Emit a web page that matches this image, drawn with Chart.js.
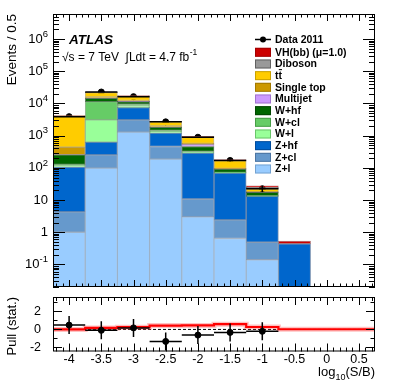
<!DOCTYPE html>
<html>
<head>
<meta charset="utf-8">
<script src="https://cdn.jsdelivr.net/npm/chart.js@4.4.1/dist/chart.umd.min.js"></script>
<style>
  html, body { margin: 0; padding: 0; background: #fff; }
  #wrap { position: relative; width: 407px; height: 391px; }
  canvas { position: absolute; left: 0; }
  #mainChart { top: 0; }
  #pullChart { top: 292px; }
</style>
</head>
<body>
<div id="wrap">
  <canvas id="mainChart" width="407" height="292"></canvas>
  <canvas id="pullChart" width="407" height="99"></canvas>
</div>
<script>
// --- Data ---

const binCenters = [-4, -3.5, -3, -2.5, -2, -1.5, -1, -0.5];

// background stack, bottom first
const zl        = [1.0, 98, 1290, 187, 3.0, 0.64, 0.14, 0];
const zcl       = [3.3, 156, 1800, 273, 7.8, 1.8, 0.35, 0];
const zhf       = [102, 376, 4300, 740, 277, 66, 12.5, 0.44];
const wl        = [8, 2460, 950, 110, 15, 1.5, 0.2, 0];
const wcl       = [14, 8300, 1250, 140, 19, 2.5, 0.5, 0];
const whf       = [126, 3100, 1800, 380, 138, 19, 3.6, 0];
const multijet  = [2, 300, 200, 20, 75, 2, 0.2, 0];
const singleTop = [184, 1100, 800, 150, 40, 3, 0.9, 0];
const ttbar     = [3660, 5800, 4600, 680, 325, 73, 3.8, 0];
const diboson   = [20, 600, 400, 60, 35, 8, 2.7, 0];
const vhSignal  = [0.3, 1, 2, 1, 1.5, 1.2, 2.6, 0.09];

const dataCenters = [-4, -3.5, -3, -2.5, -2, -1.5, -1];
const data2011    = [3900, 22700, 16300, 2690, 895, 170, 22.5];
const data2011Err = [62, 151, 128, 52, 30, 13, 4.7];

const pullValues = [0.48, -0.1, 0.17, -1.33, -0.63, -0.33, -0.21];
const pullErr    = [1, 1, 1, 1, 1, 1, 1];

const redCenters = [-4, -3.5, -3, -2.5, -2, -1.5, -1, -0.5, 0, 0.5];
const redLevels  = [0.15, 0.0, 0.17, 0.25, 0.43, 0.45, 0.58, 0.27, 0.02, 0.02];

const xTickLabels = ["-4", "-3.5", "-3", "-2.5", "-2", "-1.5", "-1", "-0.5", "0", "0.5"];
const xTickValues = [-4, -3.5, -3, -2.5, -2, -1.5, -1, -0.5, 0, 0.5];
const pullTickValues = [-2, 0, 2];

const FONT = "'Liberation Sans', Arial, Helvetica, sans-serif";
const HALF_BIN = 0.25;

// --- helpers ---

function toPoints(xs, ys) {
  return xs.map((x, i) => ({ x: x, y: ys[i] }));
}

function stackSet(label, values, color, edge) {
  return {
    type: "bar",
    label: label,
    data: toPoints(binCenters, values),
    backgroundColor: color,
    borderColor: edge,
    borderWidth: 1,
    borderSkipped: false,
    barPercentage: 1,
    categoryPercentage: 1,
    stack: "mc",
  };
}

function drawFrame(ctx, a) {
  ctx.save();
  ctx.strokeStyle = "#000";
  ctx.lineWidth = 1;
  ctx.strokeRect(a.left + 0.5, a.top + 0.5, a.right - a.left - 1, a.bottom - a.top - 1);
  ctx.restore();
}

function drawXTicks(chart, majLen, minLen) {
  const ctx = chart.ctx;
  const a = chart.chartArea;
  const sx = chart.scales.x;
  ctx.save();
  ctx.strokeStyle = "#000";
  ctx.lineWidth = 1;
  ctx.beginPath();
  for (let k = -42; k <= 7; k++) {
    const px = Math.round(sx.getPixelForValue(k / 10)) + 0.5;
    const len = k % 5 === 0 ? majLen : minLen;
    ctx.moveTo(px, a.bottom);
    ctx.lineTo(px, a.bottom - len);
    ctx.moveTo(px, a.top);
    ctx.lineTo(px, a.top + len);
  }
  ctx.stroke();
  ctx.restore();
}

function drawErrorBars(chart, xs, ys, errs, lw) {
  const ctx = chart.ctx;
  const sx = chart.scales.x;
  const sy = chart.scales.y;
  ctx.save();
  ctx.strokeStyle = "#000";
  ctx.lineWidth = lw;
  ctx.beginPath();
  xs.forEach((x, i) => {
    const py = sy.getPixelForValue(ys[i]);
    const px = sx.getPixelForValue(x);
    ctx.moveTo(sx.getPixelForValue(x - HALF_BIN), py);
    ctx.lineTo(sx.getPixelForValue(x + HALF_BIN), py);
    const lo = Math.max(ys[i] - errs[i], sy.min);
    ctx.moveTo(px, sy.getPixelForValue(lo));
    ctx.lineTo(px, sy.getPixelForValue(ys[i] + errs[i]));
  });
  ctx.stroke();
  ctx.restore();
}

// --- Main panel ---

const mainDecoration = {
  id: "mainDecoration",
  afterDatasetsDraw(chart) {
    drawErrorBars(chart, dataCenters, data2011, data2011Err, 1.5);
  },
  afterDraw(chart) {
    const ctx = chart.ctx;
    const a = chart.chartArea;
    const sy = chart.scales.y;

    drawFrame(ctx, a);
    drawXTicks(chart, 7, 3.5);

    // log y ticks, left and right
    ctx.save();
    ctx.strokeStyle = "#000";
    ctx.lineWidth = 1;
    ctx.beginPath();
    for (let d = -2; d <= 6; d++) {
      for (let m = 1; m <= 9; m++) {
        const v = m * Math.pow(10, d);
        if (v < sy.min || v > sy.max) continue;
        const py = Math.round(sy.getPixelForValue(v)) + 0.5;
        const len = m === 1 ? 12 : 6;
        ctx.moveTo(a.left, py);
        ctx.lineTo(a.left + len, py);
        ctx.moveTo(a.right, py);
        ctx.lineTo(a.right - len, py);
      }
    }
    ctx.stroke();

    // y labels
    ctx.fillStyle = "#000";
    ctx.textBaseline = "middle";
    for (let d = -1; d <= 6; d++) {
      const py = sy.getPixelForValue(Math.pow(10, d));
      const right = 48;
      if (d === 0 || d === 1) {
        ctx.font = "13px " + FONT;
        ctx.textAlign = "right";
        ctx.fillText(d === 0 ? "1" : "10", right, py);
      } else {
        const exp = d < 0 ? "-" + Math.abs(d) : String(d);
        ctx.font = "9.5px " + FONT;
        const ew = ctx.measureText(exp).width;
        ctx.textAlign = "left";
        ctx.fillText(exp, right - ew, py - 5);
        ctx.font = "13px " + FONT;
        ctx.textAlign = "right";
        ctx.fillText("10", right - ew, py);
      }
    }

    // y title
    ctx.save();
    ctx.translate(12, 14);
    ctx.rotate(-Math.PI / 2);
    ctx.font = "13.5px " + FONT;
    ctx.textAlign = "right";
    ctx.textBaseline = "middle";
    ctx.fillText("Events / 0.5", 0, 0);
    ctx.restore();

    // ATLAS label
    ctx.textAlign = "left";
    ctx.textBaseline = "middle";
    ctx.font = "italic bold 13.5px " + FONT;
    ctx.fillText("ATLAS", 69, 40.5);

    ctx.font = "12px " + FONT;
    let x = 62;
    const y = 57.5;
    const parts = ["\u221As = 7 TeV  ", "\u222B", "Ldt = 4.7 fb"];
    parts.forEach((t) => {
      ctx.fillText(t, x, y);
      x += ctx.measureText(t).width;
    });
    ctx.font = "8.5px " + FONT;
    ctx.fillText("-1", x + 0.5, y - 4.5);

    // legend
    const sets = chart.data.datasets;
    const rowH = 11.67;
    let ly = 39.5;
    ctx.font = "bold 10.5px " + FONT;
    for (let i = sets.length - 1; i >= 0; i--) {
      const ds = sets[i];
      if (ds.type === "scatter") {
        ctx.beginPath();
        ctx.moveTo(255, ly);
        ctx.lineTo(271, ly);
        ctx.lineWidth = 1.5;
        ctx.stroke();
        ctx.beginPath();
        ctx.arc(263, ly, 3, 0, Math.PI * 2);
        ctx.fill();
      } else {
        ctx.fillStyle = ds.backgroundColor;
        ctx.fillRect(255, ly - 4.5, 16, 9);
        ctx.lineWidth = 1;
        ctx.strokeStyle = ds.borderColor;
        ctx.strokeRect(255.5, ly - 4, 15, 8);
        ctx.strokeStyle = "#000";
      }
      ctx.fillStyle = "#000";
      if (ds.label === "tt\u0304") {
        ctx.fillText("tt", 275, ly + 0.5);
        const w1 = ctx.measureText("t").width;
        const w2 = ctx.measureText("tt").width;
        ctx.fillRect(275 + w1 + 0.3, ly - 6.5, w2 - w1 - 0.3, 1);
      } else {
        ctx.fillText(ds.label, 275, ly + 0.5);
      }
      ly += i === sets.length - 1 ? 12.8 : rowH;
    }
    ctx.restore();
  },
};

const mainChart = new Chart(document.getElementById("mainChart"), {
  data: {
    datasets: [
      stackSet("Z+l", zl, "#99ccff", "rgba(70,110,150,0.45)"),
      stackSet("Z+cl", zcl, "#6699cc", "rgba(50,80,120,0.5)"),
      stackSet("Z+hf", zhf, "#0066cc", "rgba(0,50,110,0.5)"),
      stackSet("W+l", wl, "#99ff99", "rgba(60,140,60,0.5)"),
      stackSet("W+cl", wcl, "#66cc66", "rgba(40,110,40,0.5)"),
      stackSet("W+hf", whf, "#006600", "rgba(0,50,0,0.6)"),
      stackSet("Multijet", multijet, "#cc99ff", "rgba(120,80,160,0.5)"),
      stackSet("Single top", singleTop, "#cc9900", "rgba(120,90,0,0.5)"),
      stackSet("tt\u0304", ttbar, "#ffcc00", "rgba(150,120,0,0.5)"),
      stackSet("Diboson", diboson, "#999999", "rgba(60,60,60,0.6)"),
      stackSet("VH(bb) (\u03BC=1.0)", vhSignal, "#cc0000", "rgba(120,0,0,0.5)"),
      {
        type: "scatter",
        label: "Data 2011",
        data: toPoints(dataCenters, data2011),
        backgroundColor: "#000",
        borderColor: "#000",
        pointRadius: 3,
        pointHoverRadius: 3,
        stack: "data",
      },
    ],
  },
  options: {
    responsive: false,
    animation: false,
    layout: { padding: { left: 53, right: 32, top: 14, bottom: 5 } },
    plugins: { legend: { display: false }, tooltip: { enabled: false } },
    scales: {
      x: { type: "linear", min: -4.25, max: 0.75, offset: false, stacked: true, display: false },
      y: { type: "logarithmic", min: 0.02, max: 6e6, stacked: true, display: false },
    },
  },
  plugins: [mainDecoration],
});

// --- Pull panel ---

const redLine = toPoints(redCenters.map((c) => c - HALF_BIN), redLevels);
redLine.push({ x: 0.75, y: redLevels[redLevels.length - 1] });

const pullDecoration = {
  id: "pullDecoration",
  afterDatasetsDraw(chart) {
    drawErrorBars(chart, dataCenters, pullValues, pullErr, 1.5);
  },
  afterDraw(chart) {
    const ctx = chart.ctx;
    const a = chart.chartArea;
    const sx = chart.scales.x;
    const sy = chart.scales.y;

    drawFrame(ctx, a);
    drawXTicks(chart, 8, 4);

    ctx.save();
    ctx.strokeStyle = "#000";
    ctx.lineWidth = 1;
    ctx.beginPath();
    for (let v = -2; v <= 3; v++) {
      const py = Math.round(sy.getPixelForValue(v)) + 0.5;
      const len = v % 2 === 0 ? 9 : 4.5;
      ctx.moveTo(a.left, py);
      ctx.lineTo(a.left + len, py);
      ctx.moveTo(a.right, py);
      ctx.lineTo(a.right - len, py);
    }
    ctx.stroke();

    ctx.fillStyle = "#000";
    ctx.font = "12.5px " + FONT;
    ctx.textAlign = "right";
    ctx.textBaseline = "middle";
    pullTickValues.forEach((v) => {
      ctx.fillText(String(v), 41, sy.getPixelForValue(v));
    });

    ctx.textAlign = "center";
    xTickValues.forEach((v, i) => {
      ctx.fillText(xTickLabels[i], sx.getPixelForValue(v), 68);
    });

    // x title log10(S/B), right aligned
    ctx.textAlign = "left";
    ctx.textBaseline = "alphabetic";
    ctx.font = "13px " + FONT;
    const w1 = ctx.measureText("log").width;
    const w3 = ctx.measureText("(S/B)").width;
    ctx.font = "9px " + FONT;
    const w2 = ctx.measureText("10").width;
    const x = 375 - w1 - w2 - w3;
    ctx.font = "13px " + FONT;
    ctx.fillText("log", x, 84);
    ctx.font = "9px " + FONT;
    ctx.fillText("10", x + w1, 88);
    ctx.font = "13px " + FONT;
    ctx.fillText("(S/B)", x + w1 + w2, 84);

    // y title
    ctx.translate(12, 5);
    ctx.rotate(-Math.PI / 2);
    ctx.font = "13px " + FONT;
    ctx.textAlign = "right";
    ctx.textBaseline = "middle";
    ctx.fillText("Pull (stat.)", 0, 0);
    ctx.restore();
  },
};

const pullChart = new Chart(document.getElementById("pullChart"), {
  type: "line",
  data: {
    datasets: [
      {
        type: "scatter",
        label: "Data 2011",
        data: toPoints(dataCenters, pullValues),
        backgroundColor: "#000",
        borderColor: "#000",
        pointRadius: 3,
      },
      {
        label: "VH",
        data: redLine,
        stepped: "after",
        borderColor: "#ff0000",
        borderWidth: 2.2,
        pointRadius: 0,
        fill: false,
      },
      {
        label: "VH band",
        data: redLine,
        stepped: "after",
        borderColor: "rgba(255,80,80,0.35)",
        borderWidth: 5,
        pointRadius: 0,
        fill: false,
      },
      {
        label: "zero",
        data: [{ x: -4.25, y: 0 }, { x: 0.75, y: 0 }],
        borderColor: "#000",
        borderWidth: 1,
        borderDash: [3, 2],
        pointRadius: 0,
        fill: false,
      },
    ],
  },
  options: {
    responsive: false,
    animation: false,
    layout: { padding: { left: 53, right: 32, top: 5, bottom: 39.5 } },
    plugins: { legend: { display: false }, tooltip: { enabled: false } },
    scales: {
      x: { type: "linear", min: -4.25, max: 0.75, display: false },
      y: { type: "linear", min: -2.45, max: 3.6, display: false },
    },
  },
  plugins: [pullDecoration],
});
</script>
</body>
</html>
